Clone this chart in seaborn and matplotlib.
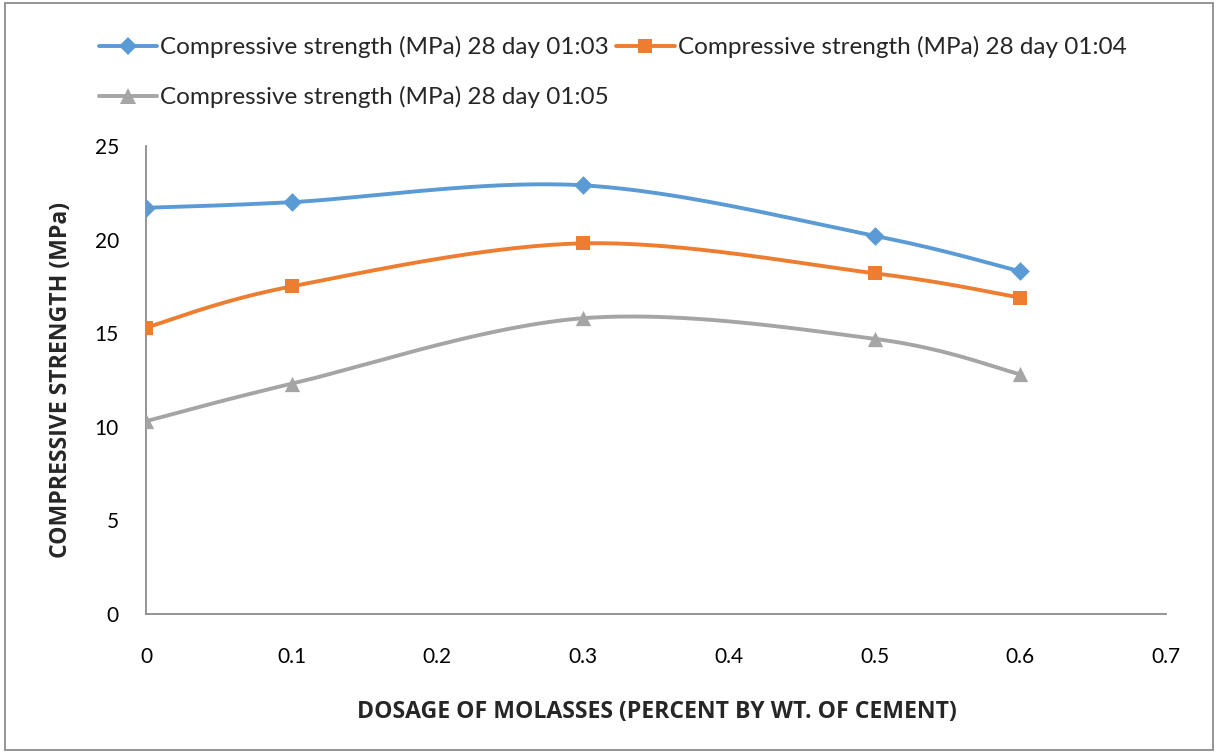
import numpy as np
import pandas as pd
import matplotlib
matplotlib.use("Agg")
import matplotlib.pyplot as plt
from matplotlib.lines import Line2D
from matplotlib.patches import Rectangle
from matplotlib import font_manager
import seaborn as sns

# ---- data ----
dosage = [0, 0.1, 0.3, 0.5, 0.6]
strength_103 = [21.7, 22.0, 22.9, 20.2, 18.3]
strength_104 = [15.3, 17.5, 19.8, 18.2, 16.9]
strength_105 = [10.3, 12.3, 15.8, 14.7, 12.8]
series_names = ["Compressive strength (MPa) 28 day 01:03",
                "Compressive strength (MPa) 28 day 01:04",
                "Compressive strength (MPa) 28 day 01:05"]
x_ticks = [0, 0.1, 0.2, 0.3, 0.4, 0.5, 0.6, 0.7]
y_ticks = [0, 5, 10, 15, 20, 25]

colors = ["#5B9BD5", "#ED7D31", "#A5A5A5"]
markers = ["D", "s", "^"]
msizes = [9.5, 10, 11]

sns.set_theme(style="white")
plt.rcParams["font.family"] = ["Lato", "DejaVu Sans"]

names = {f.name for f in font_manager.fontManager.ttflist}
label_family = ["Liberation Sans Narrow", "DejaVu Sans"] if "Liberation Sans Narrow" in names else ["Open Sans", "DejaVu Sans"]


def smooth(xs, ys, n=60):
    """Excel-like smoothing: Catmull-Rom converted to cubic Bezier."""
    pts = np.column_stack([xs, ys]).astype(float)
    out = []
    m = len(pts)
    for i in range(m - 1):
        p0 = pts[i - 1] if i > 0 else pts[i]
        p1 = pts[i]
        p2 = pts[i + 1]
        p3 = pts[i + 2] if i + 2 < m else pts[i + 1]
        c1 = p1 + (p2 - p0) / 6.0
        c2 = p2 - (p3 - p1) / 6.0
        t = np.linspace(0, 1, n)[:, None]
        seg = ((1 - t) ** 3) * p1 + 3 * ((1 - t) ** 2) * t * c1 + 3 * (1 - t) * t ** 2 * c2 + t ** 3 * p2
        if i > 0:
            seg = seg[1:]
        out.append(seg)
    arr = np.vstack(out)
    return arr[:, 0], arr[:, 1]


fig = plt.figure(figsize=(12.2, 7.53), dpi=100)
ax = fig.add_axes([146 / 1220, 1 - 614 / 753, (1166 - 146) / 1220, (614 - 146) / 753])

handles = []
for vals, name, c, mk, ms in zip([strength_103, strength_104, strength_105], series_names, colors, markers, msizes):
    sx, sy = smooth(dosage, vals)
    cdf = pd.DataFrame({"x": sx, "y": sy})
    sns.lineplot(data=cdf, x="x", y="y", ax=ax, color=c, linewidth=2.8, sort=False, estimator=None)
    pdf = pd.DataFrame({"x": dosage, "y": vals})
    sns.scatterplot(data=pdf, x="x", y="y", ax=ax, color=c, marker=mk, s=ms ** 2, edgecolor=c, linewidth=0, zorder=5)
    handles.append(Line2D([0], [0], color=c, lw=2.8, marker=mk, markersize=ms, markeredgewidth=0, label=name))

ax.set_xlim(0, 0.7)
ax.set_ylim(0, 25)
ax.set_xticks(x_ticks)
ax.set_xticklabels([f"{v:g}" for v in x_ticks])
ax.set_yticks(y_ticks)
ax.set_yticklabels([str(v) for v in y_ticks])
ax.tick_params(axis="both", length=0, labelsize=15, colors="black")
ax.tick_params(axis="x", pad=24)
ax.tick_params(axis="y", pad=19.5)

for s in ["top", "right"]:
    ax.spines[s].set_visible(False)
for s in ["left", "bottom"]:
    ax.spines[s].set_color("#8C8C8C")
    ax.spines[s].set_linewidth(1.3)

ax.set_xlabel("DOSAGE OF MOLASSES (PERCENT BY WT. OF CEMENT)", fontsize=16.6, fontweight="bold", family=label_family)
ax.set_ylabel("COMPRESSIVE STRENGTH (MPa)", fontsize=16.6, fontweight="bold", family=label_family)
ax.xaxis.set_label_coords((657 - 146) / 1020, -(700 - 614) / 468)
ax.yaxis.set_label_coords(-(146 - 73) / 1020, (614 - 380) / 468)

order = [handles[0], handles[2], handles[1]]
fig.legend(handles=order, loc="upper left", bbox_to_anchor=(99 / 1220, 1 - 36 / 753), ncol=2,
           frameon=False, fontsize=17.5, handlelength=2.4, handletextpad=0.12, columnspacing=0.3,
           labelspacing=1.15, borderaxespad=0, borderpad=0)

fig.patches.append(Rectangle((0.004, 0.004), 0.99, 0.992, transform=fig.transFigure, fill=False,
                             edgecolor="#8C8C8C", linewidth=1.3))

fig.savefig("out.png", dpi=100)
